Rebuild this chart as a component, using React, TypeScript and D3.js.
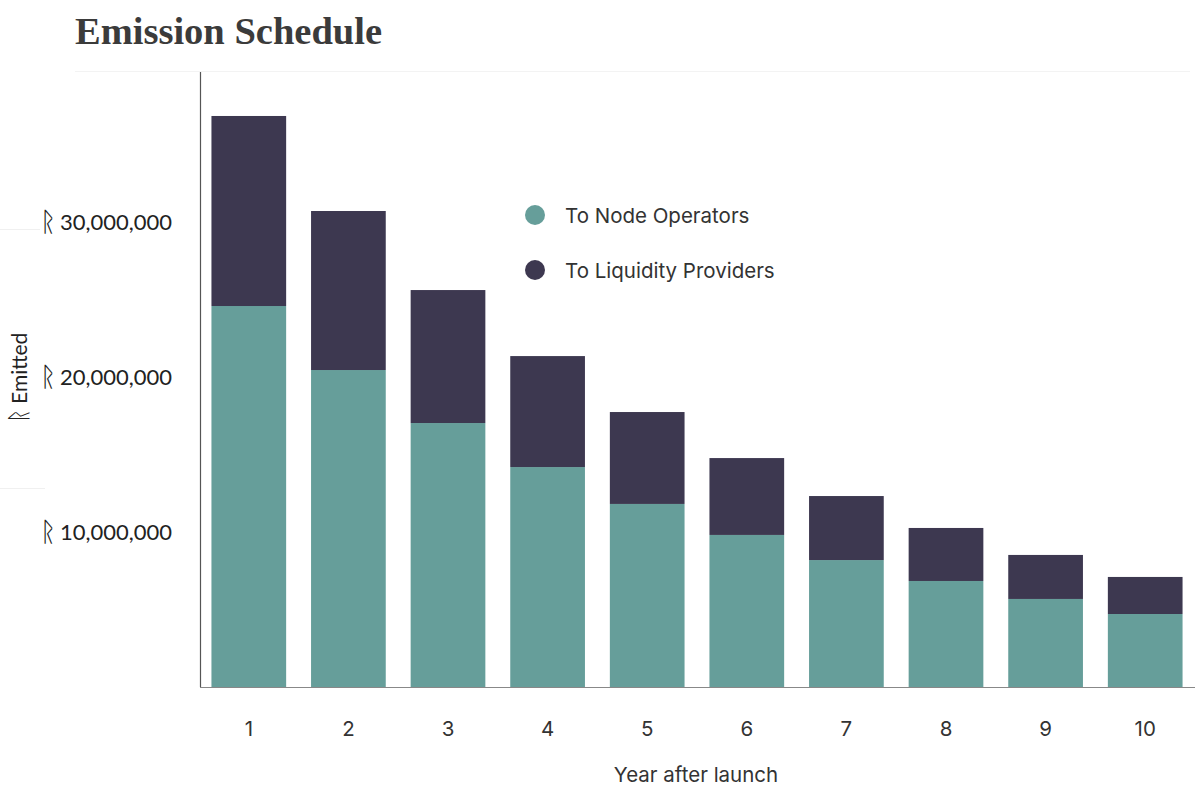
import React from "react";
import * as d3 from "d3";

const years = ["1", "2", "3", "4", "5", "6", "7", "8", "9", "10"];
const nodeOperators = [24.58, 20.45, 17.03, 14.19, 11.81, 9.81, 8.19, 6.84, 5.68, 4.71];
const liquidityProviders = [12.26, 10.26, 8.58, 7.16, 5.93, 4.96, 4.13, 3.42, 2.84, 2.39];
const yTicks = [10, 20, 30];
const seriesNames = ["To Node Operators", "To Liquidity Providers"];
const seriesColors = ["#669e9a", "#3d3850"];
const SYM = "ᚱ";

export default function App() {
  const W = 1200, H = 794;
  const x = d3.scaleBand<string>().domain(years).range([199, 1195]).paddingInner(0.25).paddingOuter(0.125);
  const yS = d3.scaleLinear().domain([0, 10]).range([687, 532]);
  const rows = years.map((yr, i) => ({ year: yr, node: nodeOperators[i], lp: liquidityProviders[i] }));
  const stack = d3.stack<any>().keys(["node", "lp"])(rows);
  const sans = "Inter, 'Open Sans', sans-serif";
  return (
    <svg width={W} height={H} style={{ position: "absolute", left: 0, top: 0, background: "#fff" }}>
      <rect width={W} height={H} fill="#fff" />
      <text x={75} y={44} fontFamily="'Liberation Serif', serif" fontWeight="bold" fontSize={38.5} fill="#3b3b3b">Emission Schedule</text>
      <line x1={75} x2={1190} y1={71.5} y2={71.5} stroke="#f3f3f3" />
      <line x1={0} x2={40} y1={229.5} y2={229.5} stroke="#f0f0f0" />
      <line x1={0} x2={45} y1={488.5} y2={488.5} stroke="#f0f0f0" />
      {stack.map((s, si) => (
        <g key={si} fill={seriesColors[si]}>
          {s.map((d: any, i: number) => (
            <rect key={i} x={x(years[i])} width={x.bandwidth()} y={yS(d[1])} height={yS(d[0]) - yS(d[1])} />
          ))}
        </g>
      ))}
      <line x1={200.5} x2={200.5} y1={72} y2={687} stroke="#555" strokeWidth={1.2} />
      <line x1={200} x2={1195} y1={687.5} y2={687.5} stroke="#888" strokeWidth={1.2} />
      {yTicks.map((t) => (
        <g key={t}>
          <text x={40} y={yS(t) + 9} fontFamily="'DejaVu Sans', sans-serif" fontSize={27} fill="#222">{SYM}</text>
          <text x={172} y={yS(t) + 8} textAnchor="end" fontFamily="Lato, sans-serif" fontSize={22} fill="#222">{d3.format(",")(t * 1000000)}</text>
        </g>
      ))}
      <text transform={`translate(27,378) rotate(-90)`} textAnchor="middle" fontFamily="Lato, sans-serif" fontSize={21} fill="#222">
        <tspan fontSize={24}>{SYM}</tspan> Emitted
      </text>
      {years.map((yr) => (
        <text key={yr} x={(x(yr) as number) + x.bandwidth() / 2} y={736} textAnchor="middle" fontFamily={sans} fontSize={20.5} fill="#333">{yr}</text>
      ))}
      <text x={696} y={782} textAnchor="middle" fontFamily={sans} fontSize={20.5} fill="#333">Year after launch</text>
      {seriesNames.map((n, i) => (
        <g key={n} transform={`translate(535,${215 + i * 55})`}>
          <circle r={10} fill={seriesColors[i]} />
          <text x={30} y={7.5} fontFamily={sans} fontSize={20.5} fill="#333">{n}</text>
        </g>
      ))}
    </svg>
  );
}
